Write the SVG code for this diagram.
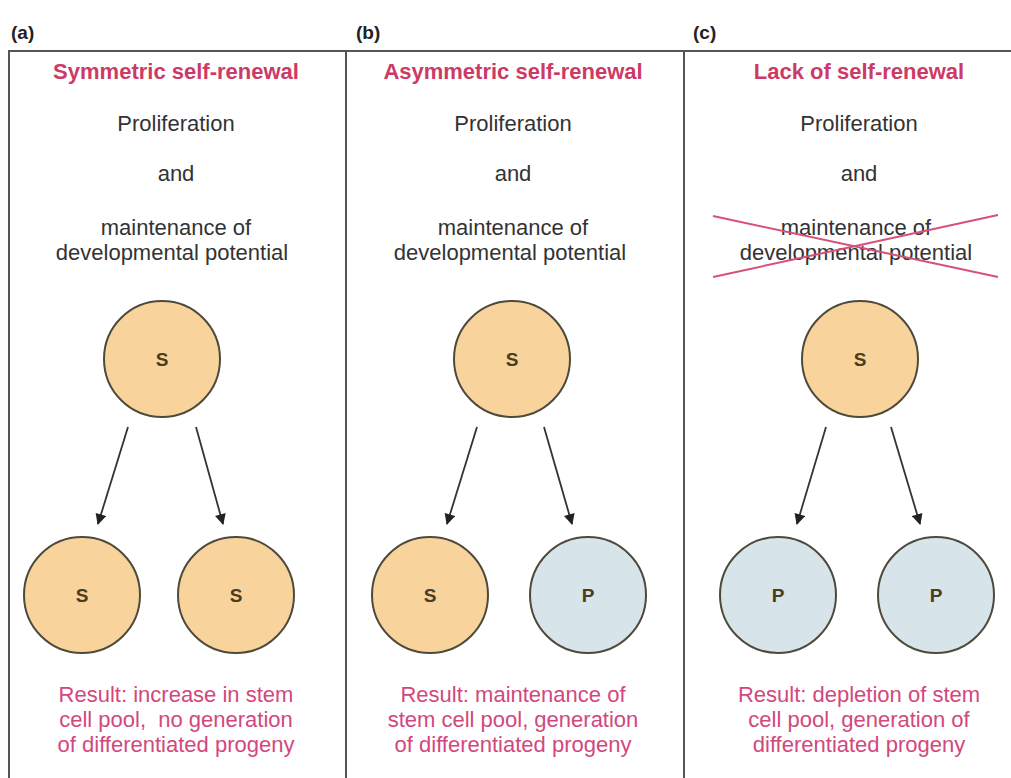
<svg xmlns="http://www.w3.org/2000/svg" width="1011" height="778" viewBox="0 0 1011 778">
<style>
text{font-family:"Liberation Sans",Arial,sans-serif;text-anchor:middle}
.lbl{font-size:19px;font-weight:bold;fill:#222;text-anchor:start}
.ttl{font-size:22px;font-weight:bold;fill:#cc3a66}
.body{font-size:22px;fill:#333}
.res{font-size:22px;fill:#d2487e}
.cell{stroke:#4d4a3c;stroke-width:2}
.s{fill:#f8d49c}
.p{fill:#d7e4e9}
.cl{font-size:19px;font-weight:bold;fill:#4a3d22}
.frame{stroke:#555;stroke-width:2;fill:none}
.arr{stroke:#333;stroke-width:1.8;fill:none;marker-end:url(#ah)}
.x{stroke:#d8507a;stroke-width:2}
</style>
<defs>
<marker id="ah" viewBox="0 0 10 10" refX="9" refY="5" markerWidth="13" markerHeight="11" orient="auto" markerUnits="userSpaceOnUse">
<path d="M0,0 L10,5 L0,10 z" fill="#222"/>
</marker>
</defs>
<rect width="1011" height="778" fill="#fff"/>
<g id="frame">
<line class="frame" x1="8" y1="51" x2="1011" y2="51"/>
<line class="frame" x1="9" y1="51" x2="9" y2="778"/>
<line class="frame" x1="346" y1="51" x2="346" y2="778"/>
<line class="frame" x1="684" y1="51" x2="684" y2="778"/>
</g>
<g id="panel-a">
<text class="lbl" x="11" y="39">(a)</text>
<text class="ttl" x="176" y="79">Symmetric self-renewal</text>
<text class="body" x="176" y="131">Proliferation</text>
<text class="body" x="176" y="181">and</text>
<text class="body" x="176" y="235">maintenance of</text>
<text class="body" x="172" y="260">developmental potential</text>
<text class="res" x="176" y="702">Result: increase in stem</text>
<text class="res" x="176" y="727">cell pool,&#160; no generation</text>
<text class="res" x="176" y="752">of differentiated progeny</text>
</g>
<g id="panel-b">
<text class="lbl" x="356" y="39">(b)</text>
<text class="ttl" x="513" y="79">Asymmetric self-renewal</text>
<text class="body" x="513" y="131">Proliferation</text>
<text class="body" x="513" y="181">and</text>
<text class="body" x="513" y="235">maintenance of</text>
<text class="body" x="510" y="260">developmental potential</text>
<text class="res" x="513" y="702">Result: maintenance of</text>
<text class="res" x="513" y="727">stem cell pool, generation</text>
<text class="res" x="513" y="752">of differentiated progeny</text>
</g>
<g id="panel-c">
<text class="lbl" x="693" y="39">(c)</text>
<text class="ttl" x="859" y="79">Lack of self-renewal</text>
<text class="body" x="859" y="131">Proliferation</text>
<text class="body" x="859" y="181">and</text>
<text class="body" x="856" y="235">maintenance of</text>
<text class="body" x="856" y="260">developmental potential</text>
<line class="x" x1="713" y1="216" x2="998" y2="277"/>
<line class="x" x1="713" y1="277" x2="998" y2="215"/>
<text class="res" x="859" y="702">Result: depletion of stem</text>
<text class="res" x="859" y="727">cell pool, generation of</text>
<text class="res" x="859" y="752">differentiated progeny</text>
</g>
<g id="cell-a0"><circle class="cell s" cx="162" cy="359" r="58"/><text class="cl" x="162" y="366">S</text></g>
<g id="cell-a1"><circle class="cell s" cx="82" cy="595" r="58"/><text class="cl" x="82" y="602">S</text></g>
<g id="cell-a2"><circle class="cell s" cx="236" cy="595" r="58"/><text class="cl" x="236" y="602">S</text></g>
<g id="cell-b0"><circle class="cell s" cx="512" cy="359" r="58"/><text class="cl" x="512" y="366">S</text></g>
<g id="cell-b1"><circle class="cell s" cx="430" cy="595" r="58"/><text class="cl" x="430" y="602">S</text></g>
<g id="cell-b2"><circle class="cell p" cx="588" cy="595" r="58"/><text class="cl" x="588" y="602" fill="#3b4a55">P</text></g>
<g id="cell-c0"><circle class="cell s" cx="860" cy="359" r="58"/><text class="cl" x="860" y="366">S</text></g>
<g id="cell-c1"><circle class="cell p" cx="778" cy="595" r="58"/><text class="cl" x="778" y="602" fill="#3b4a55">P</text></g>
<g id="cell-c2"><circle class="cell p" cx="936" cy="595" r="58"/><text class="cl" x="936" y="602" fill="#3b4a55">P</text></g>
<g id="connectors">
<line class="arr" x1="128" y1="427" x2="98" y2="524"/>
<line class="arr" x1="196" y1="427" x2="223" y2="524"/>
<line class="arr" x1="477" y1="427" x2="447" y2="524"/>
<line class="arr" x1="544" y1="427" x2="572" y2="524"/>
<line class="arr" x1="826" y1="427" x2="797" y2="524"/>
<line class="arr" x1="891" y1="427" x2="920" y2="524"/>
</g>
</svg>
